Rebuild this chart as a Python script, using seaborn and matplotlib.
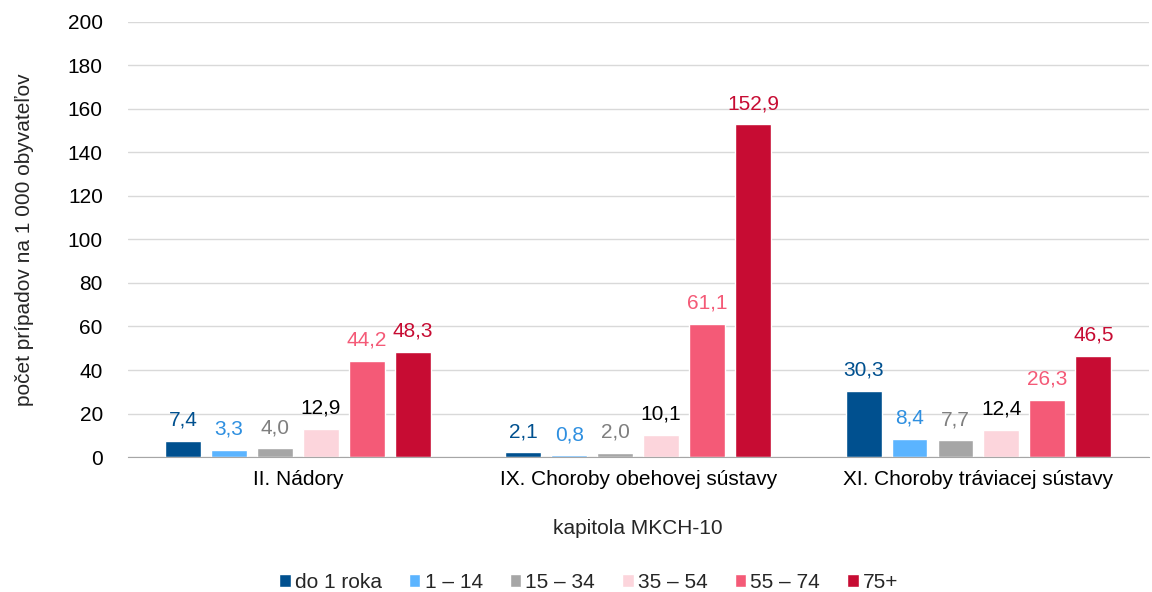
import pandas as pd
import numpy as np
import matplotlib
matplotlib.use('Agg')
import matplotlib.pyplot as plt
import seaborn as sns

kapitoly = ['II. Nádory', 'IX. Choroby obehovej sústavy', 'XI. Choroby tráviacej sústavy']
skupiny = ['do 1 roka', '1 – 14', '15 – 34', '35 – 54', '55 – 74', '75+']
do_1 = [7.4, 2.1, 30.3]
v_1_14 = [3.3, 0.8, 8.4]
v_15_34 = [4.0, 2.0, 7.7]
v_35_54 = [12.9, 10.1, 12.4]
v_55_74 = [44.2, 61.1, 26.3]
v_75 = [48.3, 152.9, 46.5]

farby = ['#00508F', '#5BB4FF', '#A6A6A6', '#FCD5DC', '#F45A77', '#C70C33']
farby_popis = ['#00508F', '#2E8FE0', '#7F7F7F', '#000000', '#F45A77', '#C70C33']

hodnoty = [do_1, v_1_14, v_15_34, v_35_54, v_55_74, v_75]
rows = []
for sk, vals in zip(skupiny, hodnoty):
    for kap, v in zip(kapitoly, vals):
        rows.append({'kapitola': kap, 'skupina': sk, 'hodnota': v})
df = pd.DataFrame(rows)

sns.set_style('white')
plt.rcParams['font.family'] = ['Liberation Sans', 'DejaVu Sans']
fs = 15

fig = plt.figure(figsize=(11.52, 5.92), dpi=100)
ax = fig.add_axes([0.111, 0.228, 0.886, 0.735])

sns.barplot(data=df, x='kapitola', y='hodnota', hue='skupina', order=kapitoly,
            hue_order=skupiny, palette=farby, width=0.81, gap=0.22,
            saturation=1, ax=ax, legend=True)

for cont, c in zip(ax.containers, farby_popis):
    ax.bar_label(cont, labels=[f'{b.get_height():.1f}'.replace('.', ',') for b in cont],
                 padding=8, color=c, fontsize=fs)

ax.set_ylim(0, 200)
ax.set_yticks(np.arange(0, 201, 20))
ax.set_xlim(-0.5, 2.5)
ax.yaxis.grid(True, color='#D9D9D9', linewidth=1)
ax.set_axisbelow(True)
for s in ['top', 'right', 'left']:
    ax.spines[s].set_visible(False)
ax.spines['bottom'].set_color('#A6A6A6')
ax.tick_params(axis='both', length=0, labelsize=fs, colors='#000000')
ax.tick_params(axis='x', pad=9)
ax.tick_params(axis='y', pad=18)
ax.set_xlabel('kapitola MKCH-10', fontsize=fs, labelpad=22)
ax.set_ylabel('počet prípadov na 1 000 obyvateľov', fontsize=fs, labelpad=24)

handles, labels = ax.get_legend_handles_labels()
ax.get_legend().remove()
fig.legend(handles, labels, loc='center', bbox_to_anchor=(0.511, 0.016), ncol=6,
           frameon=False, fontsize=fs, handlelength=0.55, handleheight=0.6,
           handletextpad=0.2, columnspacing=1.3)

fig.savefig('out.png', dpi=100)
